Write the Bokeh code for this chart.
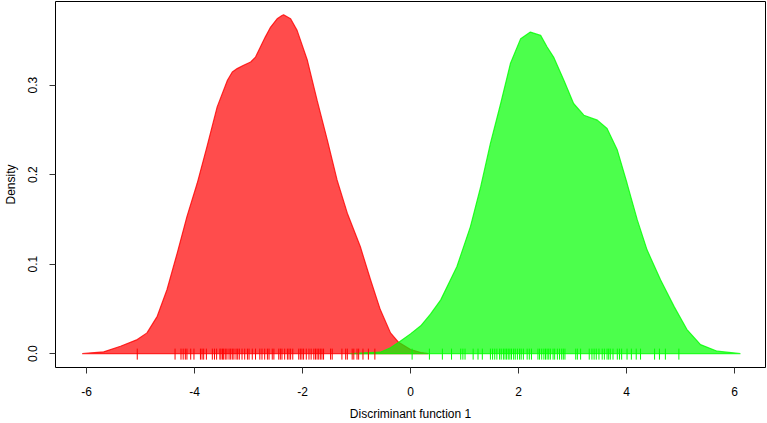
from bokeh.plotting import figure
from bokeh.models import FixedTicker, Range1d
from bokeh.embed import file_html
from bokeh.resources import INLINE

# ---- data ----
red_x = [-6.08, -5.68, -5.37, -5.06, -4.88, -4.69, -4.51, -4.32, -4.14, -3.95, -3.77, -3.58,
         -3.39, -3.30, -3.21, -3.09, -2.96, -2.87, -2.78, -2.69, -2.59, -2.47, -2.38, -2.35,
         -2.22, -2.10, -1.91, -1.73, -1.54, -1.36, -1.17, -0.93, -0.74, -0.56, -0.37, -0.22,
         0.00, 0.19, 0.33]
red_y = [0.0, 0.0019, 0.0081, 0.0156, 0.0231, 0.0416, 0.0713, 0.1123, 0.1531, 0.1903, 0.2311, 0.2757,
         0.3055, 0.3147, 0.3185, 0.3222, 0.3259, 0.3314, 0.3426, 0.3537, 0.3649, 0.3742, 0.3779, 0.3787,
         0.3742, 0.3612, 0.3278, 0.2832, 0.2386, 0.1940, 0.1569, 0.1196, 0.0825, 0.0491, 0.0231, 0.0126,
         0.0045, 0.0012, 0.0]

green_x = [-1.11, -0.83, -0.56, -0.37, -0.19, 0.00, 0.19, 0.37, 0.56, 0.86, 1.11, 1.30, 1.48, 1.67,
           1.85, 2.04, 2.22, 2.41, 2.53, 2.65, 2.84, 3.02, 3.21, 3.46, 3.64, 3.83, 4.01, 4.20, 4.38,
           4.63, 4.88, 5.12, 5.37, 5.68, 6.11]
green_y = [0.0, 0.0008, 0.0015, 0.0064, 0.0137, 0.022, 0.031, 0.044, 0.060, 0.0973, 0.1419, 0.1865,
           0.2349, 0.2795, 0.3241, 0.352, 0.3593, 0.3556, 0.3426, 0.3314, 0.3055, 0.2795, 0.2664,
           0.2609, 0.2516, 0.2274, 0.1903, 0.1494, 0.1159, 0.0825, 0.0527, 0.0268, 0.0100, 0.0026, 0.0]

red_rug = [-5.06, -4.36, -4.25, -4.21, -4.17, -4.14, -4.07, -4.01, -3.89, -3.86, -3.83, -3.78,
           -3.67, -3.63, -3.59, -3.53, -3.51, -3.48, -3.46, -3.43, -3.40, -3.36, -3.33, -3.30,
           -3.27, -3.23, -3.20, -3.17, -3.12, -3.07, -3.02, -2.99, -2.93, -2.87, -2.79, -2.75,
           -2.70, -2.65, -2.62, -2.56, -2.53, -2.44, -2.41, -2.38, -2.33, -2.28, -2.25, -2.22,
           -2.18, -2.07, -2.04, -2.01, -1.98, -1.93, -1.88, -1.84, -1.79, -1.76, -1.73, -1.70,
           -1.67, -1.64, -1.61, -1.48, -1.45, -1.27, -1.20, -1.17, -1.08, -1.05, -0.99, -0.96,
           -0.88, -0.78, -0.66]
green_rug = [0.03, 0.35, 0.59, 0.76, 0.93, 0.97, 1.01, 1.16, 1.25, 1.33, 1.48, 1.52, 1.56, 1.60,
             1.65, 1.68, 1.72, 1.75, 1.78, 1.81, 1.84, 1.87, 1.91, 1.94, 1.98, 2.02, 2.05, 2.09,
             2.16, 2.20, 2.24, 2.36, 2.39, 2.43, 2.47, 2.50, 2.53, 2.56, 2.59, 2.64, 2.67, 2.72,
             2.76, 2.80, 2.83, 2.86, 3.06, 3.09, 3.15, 3.31, 3.36, 3.40, 3.44, 3.49, 3.55, 3.59,
             3.64, 3.67, 3.70, 3.75, 3.83, 3.87, 3.91, 4.01, 4.09, 4.18, 4.26, 4.52, 4.61, 4.72,
             4.97]

x_ticks = [-6, -4, -2, 0, 2, 4, 6]
x_tick_labels = ["-6", "-4", "-2", "0", "2", "4", "6"]
y_ticks = [0.0, 0.1, 0.2, 0.3]
y_tick_labels = ["0.0", "0.1", "0.2", "0.3"]
x_title = "Discriminant function 1"
y_title = "Density"

# ---- figure ----
FONT = "Liberation Sans"
p = figure(width=767, height=423, output_backend="svg", toolbar_location=None,
           x_range=Range1d(-6.574, 6.574), y_range=Range1d(-0.0156, 0.3935),
           min_border_left=55, min_border_right=2, min_border_top=1, min_border_bottom=55)
p.grid.visible = False
p.background_fill_color = "white"
p.border_fill_color = "white"
p.outline_line_color = "black"
p.outline_line_width = 1
p.outline_line_alpha = 1

p.patch(red_x, red_y, fill_color=(255, 0, 0), fill_alpha=0.7, line_color=(255, 0, 0),
        line_alpha=0.8, line_width=1.2)
p.patch(green_x, green_y, fill_color=(0, 255, 0), fill_alpha=0.7, line_color=(0, 255, 0),
        line_alpha=0.8, line_width=1.2)

rug_lo, rug_hi = -0.0068, 0.0055
p.segment(x0=red_rug, y0=rug_lo, x1=red_rug, y1=rug_hi, line_color=(255, 0, 0), line_width=1)
p.segment(x0=green_rug, y0=rug_lo, x1=green_rug, y1=rug_hi, line_color=(0, 255, 0), line_width=1)

for ax in (p.xaxis[0], p.yaxis[0]):
    ax.axis_line_color = None
    ax.major_tick_in = 0
    ax.major_tick_out = 6
    ax.major_tick_line_color = "#333333"
    ax.minor_tick_line_color = None
    ax.major_label_text_font = FONT
    ax.major_label_text_font_size = "12px"
    ax.major_label_text_color = "black"
    ax.major_label_text_line_height = 1.0
    ax.axis_label_text_font = FONT
    ax.axis_label_text_font_size = "12px"
    ax.axis_label_text_font_style = "normal"
    ax.axis_label_text_color = "black"
    ax.axis_label_text_line_height = 1.0

p.xaxis.ticker = FixedTicker(ticks=x_ticks)
p.xaxis.major_label_overrides = {t: l for t, l in zip(x_ticks, x_tick_labels)}
p.xaxis.major_label_standoff = 13
p.xaxis.axis_label = x_title
p.xaxis.axis_label_standoff = 8

p.yaxis.ticker = FixedTicker(ticks=y_ticks)
p.yaxis.major_label_overrides = {t: l for t, l in zip(y_ticks, y_tick_labels)}
p.yaxis.major_label_orientation = "vertical"
p.yaxis.major_label_standoff = 12
p.yaxis.axis_label = y_title
p.yaxis.axis_label_standoff = 8

open("out.html", "w").write(file_html(p, INLINE))
